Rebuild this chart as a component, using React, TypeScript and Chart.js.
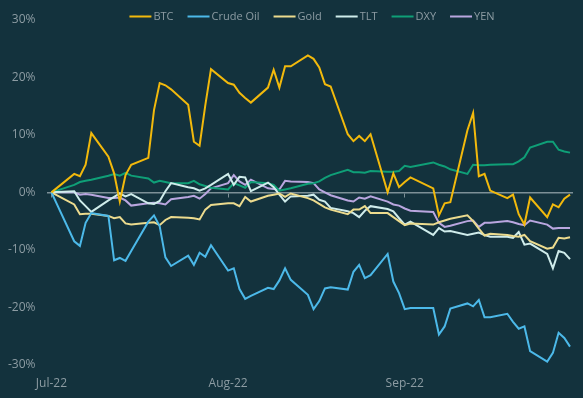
import React, { useEffect, useRef } from "react";
import { Chart, registerables } from "chart.js";

Chart.register(...registerables);

// Trading days, counted in calendar days from 1 Jul 2022
const DAYS = [0, 4, 5, 6, 7, 10, 11, 12, 13, 14, 17, 18, 19, 20, 21, 24, 25, 26, 27, 28,
  31, 32, 33, 34, 35, 38, 39, 40, 41, 42, 45, 46, 47, 48, 49, 52, 53, 54, 55, 56, 59, 60, 61,
  62, 63, 67, 68, 69, 70, 73, 74, 75, 76, 77, 80, 81, 82, 83, 84, 87, 88, 89, 90, 91];

const MONTH_TICKS = [0, 31, 62];
const MONTH_LABELS = ["Jul-22", "Aug-22", "Sep-22"];
const Y_TICKS = [-30, -20, -10, 0, 10, 20, 30];

const SERIES_NAMES = ["BTC", "Crude Oil", "Gold", "TLT", "DXY", "YEN"];
const SERIES_COLORS = ["#f2b90c", "#4cb9e9", "#ecdb8e", "#cfeceb", "#0f9f77", "#b9a6df"];

const BTC = [0, 3.2, 2.8, 4.8, 10.3, 6.2, 3.3, -1.6, 3.0, 4.8,
  6.0, 14.3, 19.0, 18.6, 17.9, 15.2, 8.8, 8.1, 15.1, 21.4,
  19.0, 18.7, 17.3, 16.4, 15.6, 18.2, 21.3, 18.2, 21.9, 21.9,
  23.8, 23.2, 21.7, 18.8, 18.4, 10.1, 8.9, 9.8, 8.9, 10.1,
  0.0, 3.3, 0.9, 1.8, 2.6, 0.7, -4.0, -1.9, -1.7, 10.8,
  13.8, 2.8, 3.2, 0.3, -1.0, -0.4, -3.8, -5.6, -0.9, -4.3,
  -2.1, -2.6, -1.1, -0.4];

const CRUDE = [0, -8.5, -9.3, -5.3, -3.6, -4.1, -11.8, -11.4, -11.9, -10.2,
  -5.1, -4.0, -5.9, -11.3, -12.8, -11.0, -12.6, -10.5, -11.2, -9.2,
  -13.6, -13.2, -16.8, -18.5, -18.0, -16.6, -16.8, -15.3, -13.2, -15.2,
  -17.8, -20.3, -18.9, -16.7, -16.5, -16.9, -13.8, -12.6, -14.9, -14.4,
  -10.7, -15.5, -17.5, -20.3, -20.1, -20.1, -24.7, -23.3, -20.2, -19.3,
  -19.8, -18.7, -21.7, -21.7, -21.1, -22.5, -23.7, -23.3, -27.6, -29.4,
  -27.9, -24.4, -25.3, -26.8];

const GOLD = [0, -2.1, -3.8, -3.7, -3.7, -4.1, -4.5, -4.3, -5.4, -5.6,
  -5.3, -5.2, -5.7, -4.8, -4.3, -4.4, -4.5, -4.7, -3.0, -2.2,
  -1.9, -1.9, -2.4, -0.8, -1.6, -0.6, -0.4, -0.2, -0.8, -0.2,
  -1.0, -1.4, -2.0, -2.6, -3.0, -3.8, -3.0, -3.0, -2.4, -3.6,
  -3.6, -4.3, -5.0, -5.7, -5.4, -5.6, -5.2, -4.9, -4.6, -4.0,
  -5.0, -6.3, -7.5, -7.2, -7.4, -7.6, -7.7, -7.4, -8.5, -9.8,
  -9.6, -7.9, -8.0, -7.8];

const TLT = [0, 0.2, -1.4, -2.4, -3.4, -1.4, -0.8, -0.2, -0.7, -0.3,
  -1.9, -2.0, -1.5, 0.2, 1.6, 0.9, 0.7, 0.3, 0.7, 1.3,
  3.2, 1.3, 2.7, 2.6, 0.2, 1.7, 0.9, -0.4, -1.6, -0.7,
  -0.6, -0.4, -1.3, -1.6, -2.7, -3.3, -3.6, -4.3, -3.2, -2.4,
  -2.9, -3.3, -4.5, -5.6, -5.1, -7.4, -6.2, -6.8, -6.7, -7.4,
  -7.2, -7.0, -7.4, -7.7, -7.7, -7.9, -6.9, -9.1, -8.9, -10.7,
  -13.2, -10.2, -10.5, -11.6];

const DXY = [0, 1.3, 1.8, 2.0, 2.2, 2.9, 3.2, 2.9, 3.4, 2.9,
  2.4, 1.7, 2.0, 1.8, 1.6, 1.6, 2.0, 1.4, 1.1, 0.8,
  0.5, 1.6, 1.2, 0.8, 1.8, 1.6, 1.3, 0.3, 0.5, 0.7,
  1.5, 1.6, 1.9, 2.5, 3.0, 3.9, 3.5, 3.5, 3.4, 3.7,
  3.6, 3.6, 3.7, 4.6, 4.4, 5.2, 4.8, 4.5, 4.0, 3.2,
  4.8, 4.7, 4.7, 4.8, 4.9, 4.9, 5.4, 6.1, 7.8, 8.8,
  8.8, 7.4, 7.1, 6.9];

const YEN = [0, 0.0, -0.4, -0.3, -0.4, -1.0, -1.0, -0.9, -1.4, -2.3,
  -1.9, -1.8, -1.9, -2.1, -1.2, -0.8, -0.6, -1.1, -0.3, 0.7,
  1.6, 3.0, 1.9, 1.3, 2.2, 0.7, 0.6, 0.5, 2.0, 1.9,
  1.8, 1.6, 0.5, 0.0, -0.5, -1.4, -1.6, -0.9, -1.1, -0.7,
  -1.6, -2.1, -2.3, -2.8, -3.2, -3.4, -5.3, -6.0, -5.8, -5.0,
  -4.9, -6.0, -5.3, -5.3, -5.0, -5.2, -5.5, -5.7, -4.9, -5.6,
  -6.3, -6.2, -6.2, -6.2];

const SERIES_VALUES = [BTC, CRUDE, GOLD, TLT, DXY, YEN];

const BG = "#13323d";
const TEXT = "#8d9ca3";
const ZERO = "#7d9097";
const FONT = { family: "'Open Sans', 'Noto Sans', sans-serif", size: 12 };
const X_MIN = -0.6;
const X_MAX = 91.35;

const legendPlugin = {
  id: "topLegend",
  afterDraw(chart: any) {
    const ctx = chart.ctx;
    ctx.save();
    ctx.font = `11px 'Open Sans', 'Noto Sans', sans-serif`;
    ctx.textBaseline = "middle";
    ctx.textAlign = "left";
    const lineW = 22;
    const gapText = 2;
    const gapItem = 14;
    const items = chart.data.datasets.map((ds: any) => ({
      label: ds.label,
      color: ds.borderColor,
      w: ctx.measureText(ds.label).width,
    }));
    const total = items.reduce((s: number, it: any) => s + lineW + gapText + it.w, 0) + gapItem * (items.length - 1);
    const ca = chart.chartArea;
    let x = (ca.left + ca.right) / 2 - total / 2 + 2;
    const y = 16.5;
    items.forEach((it: any) => {
      ctx.strokeStyle = it.color;
      ctx.lineWidth = 2;
      ctx.beginPath();
      ctx.moveTo(x, y);
      ctx.lineTo(x + lineW, y);
      ctx.stroke();
      ctx.fillStyle = TEXT;
      ctx.fillText(it.label, x + lineW + gapText, y + 0.5);
      x += lineW + gapText + it.w + gapItem;
    });
    ctx.restore();
  },
};

const bgPlugin = {
  id: "bg",
  beforeDraw(chart: any) {
    const ctx = chart.ctx;
    ctx.save();
    ctx.fillStyle = BG;
    ctx.fillRect(0, 0, chart.width, chart.height);
    ctx.restore();
  },
};

export default function App() {
  const ref = useRef<HTMLCanvasElement | null>(null);

  useEffect(() => {
    if (!ref.current) return;
    const datasets = SERIES_NAMES.map((name, i) => ({
      label: name,
      data: DAYS.map((d, j) => ({ x: d, y: SERIES_VALUES[i][j] })),
      borderColor: SERIES_COLORS[i],
      backgroundColor: SERIES_COLORS[i],
      borderWidth: 2,
      pointRadius: 0,
      tension: 0,
      fill: false,
    }));
    const monthTicks = (s: any) => {
      s.ticks = MONTH_TICKS.map((v) => ({ value: v }));
    };
    const chart = new Chart(ref.current, {
      type: "line",
      data: { datasets },
      plugins: [bgPlugin, legendPlugin],
      options: {
        animation: false,
        responsive: false,
        layout: { padding: { top: 17, right: 11, left: 0, bottom: 0 } },
        plugins: { legend: { display: false }, tooltip: { enabled: false } },
        scales: {
          x: {
            type: "linear",
            bounds: "data",
            min: X_MIN,
            max: X_MAX,
            afterBuildTicks: monthTicks,
            afterFit: (s: any) => { s.height = 33; },
            grid: { display: false, drawTicks: false },
            border: { display: false },
            ticks: {
              color: TEXT,
              font: FONT,
              padding: 11,
              maxRotation: 0,
              autoSkip: false,
              callback: (v: any) => {
                const k = MONTH_TICKS.indexOf(Number(v));
                return k >= 0 ? MONTH_LABELS[k] : "";
              },
            },
          },
          x2: {
            type: "linear",
            position: { y: 0 } as any,
            bounds: "data",
            min: X_MIN,
            max: X_MAX,
            afterBuildTicks: monthTicks,
            grid: { drawOnChartArea: false, drawTicks: true, tickLength: 4, color: ZERO, lineWidth: 1 },
            border: { display: true, color: ZERO, width: 1.5 },
            ticks: { display: false },
          },
          y: {
            type: "linear",
            min: -30,
            max: 30,
            afterBuildTicks: (s: any) => { s.ticks = Y_TICKS.map((v) => ({ value: v })); },
            afterFit: (s: any) => { s.width = 48; },
            grid: { display: false, drawTicks: false },
            border: { display: false },
            ticks: {
              color: TEXT,
              font: FONT,
              padding: 12.5,
              callback: (v: any) => `${v}%`,
            },
          },
        },
      },
    } as any);
    return () => chart.destroy();
  }, []);

  return (
    <div style={{ position: "fixed", left: 0, top: 0, width: 583, height: 398, background: BG }}>
      <canvas ref={ref} width={583} height={398} style={{ display: "block" }} />
    </div>
  );
}
